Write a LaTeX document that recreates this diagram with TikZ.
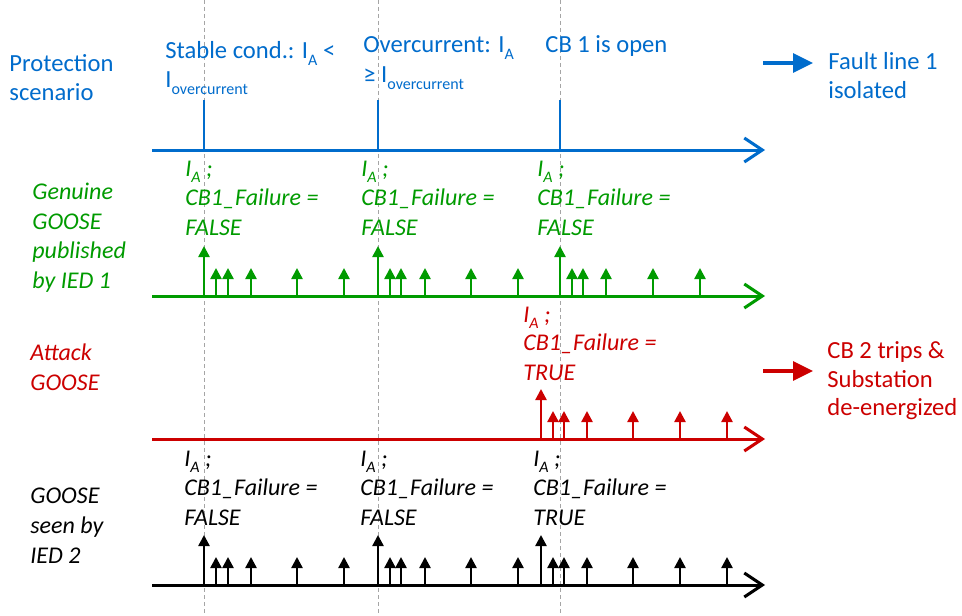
\documentclass[tikz,border=0pt]{standalone}
\usepackage{fontspec}
\setmainfont{Carlito}
\usetikzlibrary{arrows.meta}
\definecolor{pblue}{RGB}{0,108,204}
\definecolor{pgreen}{RGB}{0,155,0}
\definecolor{pred}{RGB}{204,0,0}
\definecolor{guide}{RGB}{165,165,165}
\newcommand\lowidx[1]{\raisebox{-0.25em}{\fontsize{8}{9}\selectfont #1}}
\begin{document}
\begin{tikzpicture}[x=0.5pt,y=-0.5pt,
  every node/.style={inner sep=0pt, anchor=base west},
  head/.style={font=\fontsize{12.3}{15}\selectfont},
  tag/.style={font=\fontsize{12}{15}\selectfont\itshape},
  axis/.style={line width=1.5pt, -{Straight Barb[length=9pt,width=12pt]}},
  pulse/.style={line width=1.2pt, -{Triangle[length=5.5pt,width=5.5pt]}},
  tick/.style={pblue, line width=1pt},
  guideline/.style={guide, line width=0.5pt, dash pattern=on 2pt off 1.5pt},
  bigarrow/.style={line width=1.6pt, -{Triangle[length=10pt,width=9.5pt]}},
]
\fill[white] (0,0) rectangle (962,615);
\useasboundingbox (0,0) rectangle (962,615);

% time instants shared by all rows
\foreach \x [count=\i] in {204,378,560} {
  \coordinate (gt\i) at (\x,0);
  \coordinate (gb\i) at (\x,615);
  \draw[guideline] (gt\i) -- (gb\i);
}

% ---------- protection scenario ----------
\node[head,text=pblue] (ps1) at (9,72) {Protection};
\node[head,text=pblue] (ps2) at (9,101) {scenario};
\node[head,text=pblue] (sc1) at (165,59) {Stable cond.: I\lowidx{A} <};
\node[head,text=pblue] (sc2) at (165,88) {I\lowidx{overcurrent}};
\node[head,text=pblue] (oc1) at (363,53) {Overcurrent: I\lowidx{A}};
\node[head,text=pblue] (oc2) at (363,83) {≥ I\lowidx{overcurrent}};
\node[head,text=pblue] (cbo) at (545,53) {CB 1 is open};
\node[head,text=pblue] (fl1) at (828,70) {Fault line 1};
\node[head,text=pblue] (fl2) at (828,98) {isolated};

\coordinate (bA) at (152,150);
\coordinate (bB) at (765,150);
\draw[axis,pblue] (bA) -- (bB);
\foreach \x [count=\i] in {204,378,560} {
  \coordinate (tb\i) at (\x,150);
  \coordinate (tt\i) at (\x,100);
  \draw[tick] (tb\i) -- (tt\i);
}
\coordinate (fa) at (763,63);
\coordinate (fb) at (813,63);
\draw[bigarrow,pblue] (fa) -- (fb);

% ---------- genuine GOOSE ----------
\node[tag,text=pgreen] (gn1) at (32,199) {Genuine};
\node[tag,text=pgreen] (gn2) at (32,229) {GOOSE};
\node[tag,text=pgreen] (gn3) at (32,258) {published};
\node[tag,text=pgreen] (gn4) at (32,288) {by IED 1};
\foreach \x [count=\i] in {185,361,537} {
  \node[tag,text=pgreen] (ga\i) at (\x,176) {I\lowidx{A} ;};
  \node[tag,text=pgreen] (gf\i) at (\x,205) {CB1\_Failure =};
  \node[tag,text=pgreen] (gv\i) at (\x,235) {FALSE};
}
\coordinate (gA) at (152,296);
\coordinate (gB) at (765,296);
\draw[axis,pgreen] (gA) -- (gB);
\foreach \x/\h [count=\i] in {204/50,216/28,228/28,251/28,297/28,344/28,
                               378/50,390/28,401/28,425/28,471/28,518/28,
                               560/50,572/28,583/28,606/28,653/28,700/28} {
  \coordinate (gp\i) at (\x,296);
  \coordinate (gq\i) at (\x,296-\h);
  \draw[pulse,pgreen] (gp\i) -- (gq\i);
}

% ---------- attack GOOSE ----------
\node[tag,text=pred] (at1) at (30,360) {Attack};
\node[tag,text=pred] (at2) at (30,390) {GOOSE};
\node[tag,text=pred] (ra) at (523,322) {I\lowidx{A} ;};
\node[tag,text=pred] (rf) at (523,350) {CB1\_Failure =};
\node[tag,text=pred] (rv) at (523,380) {TRUE};
\coordinate (rA) at (152,439);
\coordinate (rB) at (765,439);
\draw[axis,pred] (rA) -- (rB);
\foreach \x/\h [count=\i] in {541/50,553/28,564/28,587/28,633/28,680/28,727/28} {
  \coordinate (rp\i) at (\x,439);
  \coordinate (rq\i) at (\x,439-\h);
  \draw[pulse,pred] (rp\i) -- (rq\i);
}
\coordinate (ca) at (763,371);
\coordinate (cb) at (813,371);
\draw[bigarrow,pred] (ca) -- (cb);
\node[head,text=pred] (ct1) at (827,358) {CB 2 trips \&};
\node[head,text=pred] (ct2) at (827,387) {Substation};
\node[head,text=pred] (ct3) at (827,415) {de-energized};

% ---------- GOOSE seen by IED 2 ----------
\node[tag] (sn1) at (30,503) {GOOSE};
\node[tag] (sn2) at (30,533) {seen by};
\node[tag] (sn3) at (30,563) {IED 2};
\foreach \x/\v [count=\i] in {184/FALSE,360/FALSE,533/TRUE} {
  \node[tag] (ka\i) at (\x,466) {I\lowidx{A} ;};
  \node[tag] (kf\i) at (\x,495) {CB1\_Failure =};
  \node[tag] (kv\i) at (\x,525) {\v};
}
\coordinate (kA) at (152,585);
\coordinate (kB) at (765,585);
\draw[axis,black] (kA) -- (kB);
\foreach \x/\h [count=\i] in {204/50,216/28,228/28,251/28,297/28,344/28,
                               378/50,390/28,401/28,425/28,471/28,518/28,
                               541/50,553/28,564/28,587/28,633/28,680/28,727/28} {
  \coordinate (kp\i) at (\x,585);
  \coordinate (kq\i) at (\x,585-\h);
  \draw[pulse,black] (kp\i) -- (kq\i);
}
\end{tikzpicture}
\end{document}
